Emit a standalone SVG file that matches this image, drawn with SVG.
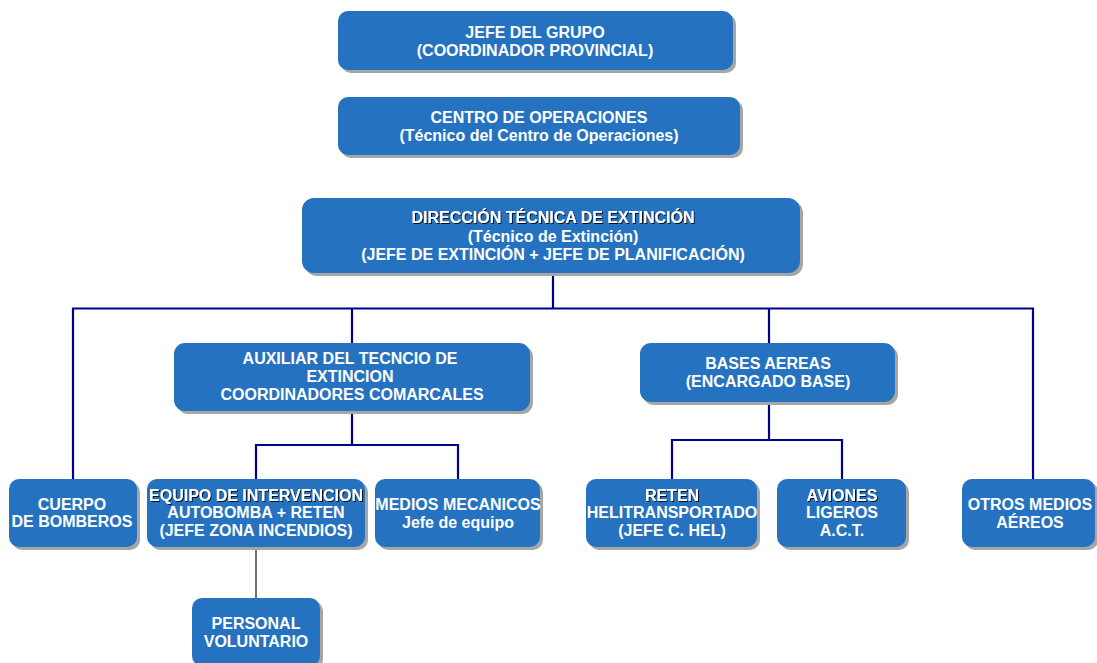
<svg xmlns="http://www.w3.org/2000/svg" width="1097" height="663" viewBox="0 0 1097 663">
<defs>
<style>
.box{fill:#2572c0;}
.sh{fill:#a6a6a6;}
.t{font-family:"Liberation Sans",Arial,sans-serif;font-weight:bold;font-size:16px;fill:#ffffff;text-anchor:middle;}
.ts{filter:url(#tshadow);}
.ln{fill:none;stroke:#00008f;stroke-width:2.2;}
.lg{fill:none;stroke:#404040;stroke-width:1.5;}
</style>
<filter id="tshadow" x="-10%" y="-50%" width="120%" height="200%">
<feDropShadow dx="1" dy="1" stdDeviation="0.4" flood-color="#000000" flood-opacity="0.85"/>
</filter>
</defs>
<rect width="1097" height="663" fill="#ffffff"/>

<g id="connectors">
<path class="ln" d="M553,273 V308.5 M73,479 V308.5 H1033 V479 M352,308.5 V343 M769,308.5 V343"/>
<path class="ln" d="M352,411 V445 M256,479 V445 H458 V479"/>
<path class="ln" d="M769,402 V440 M672,479 V440 H842 V479"/>
<path class="lg" d="M256,547 V598"/>
</g>

<g id="jefe">
<rect class="sh" x="341" y="14" width="395" height="59" rx="10"/>
<rect class="box" x="338" y="11" width="395" height="59" rx="10"/>
<text class="t" x="535" y="38">JEFE DEL GRUPO</text>
<text class="t" x="535" y="56">(COORDINADOR PROVINCIAL)</text>
</g>

<g id="centro">
<rect class="sh" x="341" y="100" width="402" height="58" rx="10"/>
<rect class="box" x="338" y="97" width="402" height="58" rx="10"/>
<text class="t" x="539" y="123">CENTRO DE OPERACIONES</text>
<text class="t" x="539" y="141">(Técnico del Centro de Operaciones)</text>
</g>

<g id="direccion">
<rect class="sh" x="305" y="201" width="498" height="75" rx="12"/>
<rect class="box" x="302" y="198" width="498" height="75" rx="12"/>
<text class="t ts" x="553" y="223">DIRECCIÓN TÉCNICA DE EXTINCIÓN</text>
<text class="t" x="553" y="242">(Técnico de Extinción)</text>
<text class="t" x="553" y="260">(JEFE DE EXTINCIÓN + JEFE DE PLANIFICACIÓN)</text>
</g>

<g id="auxiliar">
<rect class="sh" x="177" y="346" width="356" height="68" rx="11"/>
<rect class="box" x="174" y="343" width="356" height="68" rx="11"/>
<text class="t" x="350" y="364">AUXILIAR DEL TECNCIO DE</text>
<text class="t" x="350" y="382">EXTINCION</text>
<text class="t" x="352" y="400">COORDINADORES COMARCALES</text>
</g>

<g id="bases">
<rect class="sh" x="643" y="346" width="255" height="59" rx="11"/>
<rect class="box" x="640" y="343" width="255" height="59" rx="11"/>
<text class="t" x="768" y="369">BASES AEREAS</text>
<text class="t" x="768" y="387">(ENCARGADO BASE)</text>
</g>

<g id="cuerpo">
<rect class="sh" x="12" y="482" width="128" height="68" rx="10"/>
<rect class="box" x="9" y="479" width="128" height="68" rx="10"/>
<text class="t" x="72" y="510">CUERPO</text>
<text class="t" x="72" y="527">DE BOMBEROS</text>
</g>

<g id="equipo">
<rect class="sh" x="150" y="482" width="218" height="68" rx="10"/>
<rect class="box" x="147" y="479" width="218" height="68" rx="10"/>
<text class="t ts" x="256" y="501">EQUIPO DE INTERVENCION</text>
<text class="t" x="256" y="518">AUTOBOMBA + RETEN</text>
<text class="t" x="256" y="536">(JEFE ZONA INCENDIOS)</text>
</g>

<g id="medios">
<rect class="sh" x="378" y="482" width="165" height="68" rx="10"/>
<rect class="box" x="375" y="479" width="165" height="68" rx="10"/>
<text class="t" x="458" y="510">MEDIOS MECANICOS</text>
<text class="t" x="458" y="528">Jefe de equipo</text>
</g>

<g id="reten">
<rect class="sh" x="589" y="482" width="171" height="68" rx="10"/>
<rect class="box" x="586" y="479" width="171" height="68" rx="10"/>
<text class="t ts" x="672" y="501">RETEN</text>
<text class="t" x="672" y="518">HELITRANSPORTADO</text>
<text class="t" x="672" y="536">(JEFE C. HEL)</text>
</g>

<g id="aviones">
<rect class="sh" x="780" y="482" width="129" height="68" rx="10"/>
<rect class="box" x="777" y="479" width="129" height="68" rx="10"/>
<text class="t ts" x="842" y="501">AVIONES</text>
<text class="t" x="842" y="518">LIGEROS</text>
<text class="t" x="842" y="536">A.C.T.</text>
</g>

<g id="otros">
<rect class="sh" x="965" y="482" width="133" height="68" rx="10"/>
<rect class="box" x="962" y="479" width="133" height="68" rx="10"/>
<text class="t" x="1030" y="510">OTROS MEDIOS</text>
<text class="t" x="1030" y="528">AÉREOS</text>
</g>

<g id="personal">
<rect class="sh" x="195" y="601" width="128" height="68" rx="10"/>
<rect class="box" x="192" y="598" width="128" height="68" rx="10"/>
<text class="t" x="256" y="629">PERSONAL</text>
<text class="t" x="256" y="647">VOLUNTARIO</text>
</g>
</svg>
